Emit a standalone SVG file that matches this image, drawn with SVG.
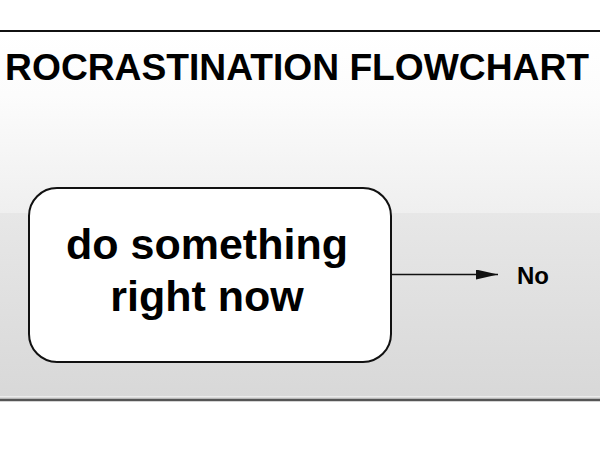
<svg xmlns="http://www.w3.org/2000/svg" width="600" height="450" viewBox="0 0 600 450">
<style>
  .title{font-family:"Liberation Sans",Arial,sans-serif;font-weight:bold;font-size:37.2px;fill:#000}
  .node-text{font-family:"Liberation Sans",Arial,sans-serif;font-weight:bold;font-size:43px;fill:#000;text-anchor:middle}
  .label{font-family:"Liberation Sans",Arial,sans-serif;font-weight:bold;font-size:24px;fill:#000}
  .node-box{fill:#fff;stroke:#111;stroke-width:2}
  .conn{stroke:#111;stroke-width:1.6;fill:none}
</style>
<defs>
  <linearGradient id="gTop" x1="0" y1="0" x2="0" y2="1">
    <stop offset="0" stop-color="#ffffff"/>
    <stop offset="0.35" stop-color="#fcfcfc"/>
    <stop offset="1" stop-color="#efefef"/>
  </linearGradient>
  <linearGradient id="gBot" x1="0" y1="0" x2="0" y2="1">
    <stop offset="0" stop-color="#e7e7e7"/>
    <stop offset="1" stop-color="#d8d8d8"/>
  </linearGradient>
  <marker id="arrow" viewBox="0 0 22 10" refX="22" refY="5" markerWidth="22" markerHeight="10" markerUnits="userSpaceOnUse" orient="auto">
    <path d="M0,0 L22,5 L0,10 Z" fill="#111"/>
  </marker>
</defs>
<rect x="0" y="0" width="600" height="450" fill="#fff"/>
<g id="background">
  <rect x="0" y="32" width="600" height="181" fill="url(#gTop)"/>
  <rect x="0" y="213" width="600" height="186" fill="url(#gBot)"/>
  <line x1="0" y1="31" x2="600" y2="31" stroke="#111" stroke-width="2"/>
  <line x1="0" y1="396.5" x2="600" y2="396.5" stroke="#ececec" stroke-width="1"/>
  <line x1="0" y1="400" x2="600" y2="400" stroke="#555" stroke-width="2.5"/>
</g>
<g id="title">
  <text class="title" x="589" y="80" text-anchor="end">ROCRASTINATION FLOWCHART</text>
</g>
<g id="connectors">
  <line class="conn" x1="391" y1="274.5" x2="498" y2="274.5" marker-end="url(#arrow)"/>
</g>
<g id="node-do-something">
  <rect class="node-box" x="29" y="188" width="362" height="174" rx="28" ry="28"/>
  <text class="node-text" x="207" y="259">do something</text>
  <text class="node-text" x="207" y="311">right now</text>
</g>
<g id="label-no">
  <text class="label" x="517" y="284">No</text>
</g>
</svg>
